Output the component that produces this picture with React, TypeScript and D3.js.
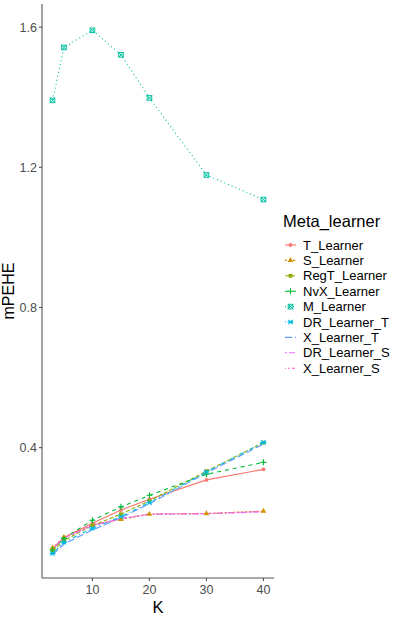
import * as d3 from "d3";

// K values on the x axis
const kValues = [3, 5, 10, 15, 20, 30, 40];

// mPEHE per meta learner
const tLearner = [0.11, 0.144, 0.184, 0.222, 0.253, 0.308, 0.338];
const sLearner = [0.114, 0.144, 0.179, 0.195, 0.21, 0.212, 0.219];
const regTLearner = [0.105, 0.135, 0.178, 0.21, 0.248, 0.333, 0.414];
const nvxLearner = [0.108, 0.141, 0.193, 0.231, 0.264, 0.324, 0.358];
const mLearner = [1.391, 1.542, 1.591, 1.521, 1.398, 1.178, 1.108];
const drLearnerT = [0.098, 0.13, 0.17, 0.203, 0.243, 0.331, 0.415];
const xLearnerT = [0.095, 0.125, 0.165, 0.2, 0.24, 0.328, 0.41];
const drLearnerS = [0.112, 0.142, 0.177, 0.198, 0.21, 0.211, 0.217];
const xLearnerS = [0.113, 0.143, 0.18, 0.196, 0.211, 0.212, 0.218];

const learnerNames = [
  "T_Learner",
  "S_Learner",
  "RegT_Learner",
  "NvX_Learner",
  "M_Learner",
  "DR_Learner_T",
  "X_Learner_T",
  "DR_Learner_S",
  "X_Learner_S",
];
const learnerValues = [
  tLearner,
  sLearner,
  regTLearner,
  nvxLearner,
  mLearner,
  drLearnerT,
  xLearnerT,
  drLearnerS,
  xLearnerS,
];

const xTicks = [10, 20, 30, 40];
const yTicks = [0.4, 0.8, 1.2, 1.6];

// ggplot hue palette, linetypes and shapes
const colors = ["#F8766D", "#D39200", "#93AA00", "#00BA38", "#00C19F", "#00B9E3", "#619CFF", "#DB72FB", "#FF61C3"];
const dashes = ["", "2,2", "4,2", "4,4", "1,3", "1,3,4,3", "7,3", "2,2,6,2", "1,2,2,2,3,2,4,2"];
const shapes = ["circle", "triangle", "square", "plus", "squarecross", "asterisk", null, null, null];

const series = learnerNames.map((name, i) => ({
  name,
  color: colors[i],
  dash: dashes[i],
  shape: shapes[i],
  points: kValues.map((k, j) => ({ k, v: learnerValues[i][j] })),
}));

function Marker({ shape, x, y, color }: { shape: string | null; x: number; y: number; color: string }) {
  if (!shape) return null;
  const r = 1.9;
  if (shape === "circle") return <circle cx={x} cy={y} r={r} fill={color} />;
  if (shape === "triangle") {
    const tri = d3.symbol(d3.symbolTriangle, 14)();
    return <path d={tri || ""} transform={`translate(${x},${y})`} fill={color} />;
  }
  if (shape === "square") return <rect x={x - r} y={y - r} width={2 * r} height={2 * r} fill={color} />;
  if (shape === "plus")
    return (
      <path d={`M${x - 3},${y}H${x + 3}M${x},${y - 3}V${y + 3}`} stroke={color} strokeWidth={1.1} />
    );
  if (shape === "squarecross")
    return (
      <g stroke={color} strokeWidth={1} fill="none">
        <rect x={x - 2.3} y={y - 2.3} width={4.6} height={4.6} />
        <path d={`M${x - 2.3},${y - 2.3}L${x + 2.3},${y + 2.3}M${x - 2.3},${y + 2.3}L${x + 2.3},${y - 2.3}`} />
      </g>
    );
  if (shape === "asterisk")
    return (
      <path
        d={`M${x - 3},${y}H${x + 3}M${x - 2.2},${y - 2.2}L${x + 2.2},${y + 2.2}M${x - 2.2},${y + 2.2}L${x + 2.2},${y - 2.2}`}
        stroke={color}
        strokeWidth={1.1}
      />
    );
  return null;
}

export default function App() {
  const width = 399;
  const height = 623;
  const left = 42;
  const right = 274;
  const top = 4;
  const bottom = 578;

  const x = d3.scaleLinear([1.15, 41.85], [left, right]);
  const y = d3.scaleLinear([0.028, 1.666], [bottom, top]);

  const line = d3
    .line<{ k: number; v: number }>()
    .x((d) => x(d.k))
    .y((d) => y(d.v));

  const font = "Liberation Sans, Arial, sans-serif";
  const legendX = 283;
  const legendY0 = 245;
  const legendStep = 15.4;

  return (
    <svg
      width={width}
      height={height}
      style={{ position: "absolute", left: 0, top: 0, background: "#fff" }}
      fontFamily={font}
    >
      {/* lines */}
      {series.map((s) => (
        <path
          key={s.name + "-line"}
          d={line(s.points) || ""}
          fill="none"
          stroke={s.color}
          strokeWidth={1.1}
          strokeDasharray={s.dash || undefined}
        />
      ))}
      {/* points */}
      {series.map((s) => (
        <g key={s.name + "-pts"}>
          {s.points.map((p) => (
            <Marker key={p.k} shape={s.shape} x={x(p.k)} y={y(p.v)} color={s.color} />
          ))}
        </g>
      ))}

      {/* axes */}
      <line x1={left} x2={left} y1={top} y2={bottom} stroke="#555" strokeWidth={1.1} />
      <line x1={left} x2={right} y1={bottom} y2={bottom} stroke="#555" strokeWidth={1.1} />
      {yTicks.map((t) => (
        <g key={"y" + t}>
          <line x1={left - 3} x2={left} y1={y(t)} y2={y(t)} stroke="#555" strokeWidth={1.1} />
          <text x={left - 5} y={y(t)} dy="0.35em" textAnchor="end" fontSize={12.5} fill="#4D4D4D">
            {t.toFixed(1)}
          </text>
        </g>
      ))}
      {xTicks.map((t) => (
        <g key={"x" + t}>
          <line x1={x(t)} x2={x(t)} y1={bottom} y2={bottom + 3} stroke="#555" strokeWidth={1.1} />
          <text x={x(t)} y={bottom + 16} textAnchor="middle" fontSize={12.5} fill="#4D4D4D">
            {t}
          </text>
        </g>
      ))}
      <text x={(left + right) / 2} y={613} textAnchor="middle" fontSize={16.5} fill="#000">
        K
      </text>
      <text
        transform={`translate(14,${(top + bottom) / 2}) rotate(-90)`}
        textAnchor="middle"
        fontSize={16}
        fill="#000"
      >
        mPEHE
      </text>

      {/* legend */}
      <text x={legendX} y={227} fontSize={16.5} fill="#000">
        Meta_learner
      </text>
      {series.map((s, i) => {
        const cy = legendY0 + i * legendStep;
        return (
          <g key={s.name + "-leg"}>
            <line
              x1={legendX + 2}
              x2={legendX + 13}
              y1={cy}
              y2={cy}
              stroke={s.color}
              strokeWidth={1.1}
              strokeDasharray={s.dash || undefined}
            />
            <Marker shape={s.shape} x={legendX + 7.5} y={cy} color={s.color} />
            <text x={legendX + 20} y={cy} dy="0.35em" fontSize={13} fill="#000">
              {s.name}
            </text>
          </g>
        );
      })}
    </svg>
  );
}
